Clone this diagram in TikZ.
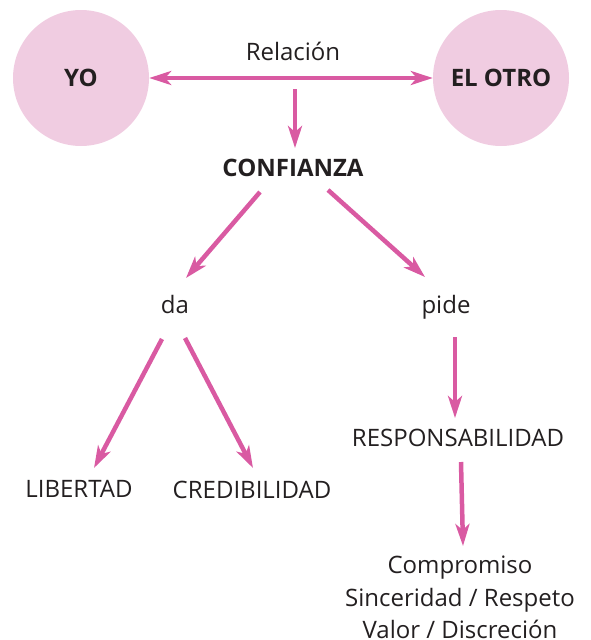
\documentclass[tikz,border=0pt]{standalone}
\usepackage{fontspec}
\setmainfont{Open Sans}
\usetikzlibrary{arrows.meta,calc}
\definecolor{pinkline}{HTML}{D95AA2}
\definecolor{pinkfill}{HTML}{F0CCE1}
\definecolor{ink}{HTML}{231F20}
\tikzset{
  bubble/.style={circle,fill=pinkfill,minimum size=136pt,inner sep=0pt,font=\fontsize{24}{28}\selectfont\bfseries,text=ink},
  lbl/.style={inner sep=0pt,anchor=base,font=\fontsize{24}{32.5}\selectfont,text=ink},
  boldlbl/.style={lbl,font=\fontsize{24}{32.5}\selectfont\bfseries},
  link/.style={draw=pinkline,line width=4.5pt,-{Stealth[length=22pt,width=14pt,inset=6pt]}},
  biglink/.style={draw=pinkline,line width=4.5pt,{Stealth[length=22pt,width=14pt,inset=6pt]}-{Stealth[length=22pt,width=14pt,inset=6pt]}}
}
\begin{document}
\begin{tikzpicture}[x=1pt,y=-1pt]
\useasboundingbox (0,0) rectangle (590,640);
\node[bubble] (yo) at (81,78) {YO};
\node[bubble] (otro) at (501,78) {EL OTRO};
\node[lbl] (rel) at (293,60) {Relación};
\node[boldlbl] (conf) at (293,176) {CONFIANZA};
\node[lbl] (da) at (175,313) {da};
\node[lbl] (pide) at (446,313) {pide};
\node[lbl] (lib) at (79,497) {LIBERTAD};
\node[lbl] (cred) at (252,498) {CREDIBILIDAD};
\node[lbl] (resp) at (458,446) {RESPONSABILIDAD};
\node[lbl,anchor=north,align=center] (comp) at (460,556) {Compromiso\\Sinceridad / Respeto\\Valor / Discreción};
\draw[biglink] (yo) -- (otro);
\draw[link] ($(rel.base)+(2,29)$) -- ($(conf.base)+(2,-28)$);
\draw[link] ($(conf.base)+(-33,16)$) -- ($(da.base)+(11,-35)$);
\draw[link] ($(conf.base)+(35,14)$) -- ($(pide.base)+(-21,-36)$);
\draw[link] ($(da.base)+(-13,26)$) -- ($(lib.base)+(15,-29)$);
\draw[link] ($(da.base)+(10,25)$) -- ($(cred.base)+(1,-30)$);
\draw[link] ($(pide.base)+(9,24)$) -- ($(resp.base)+(-3,-28)$);
\draw[link] ($(resp.base)+(3,16)$) -- ($(comp.north)+(3,-10)$);
\end{tikzpicture}
\end{document}
